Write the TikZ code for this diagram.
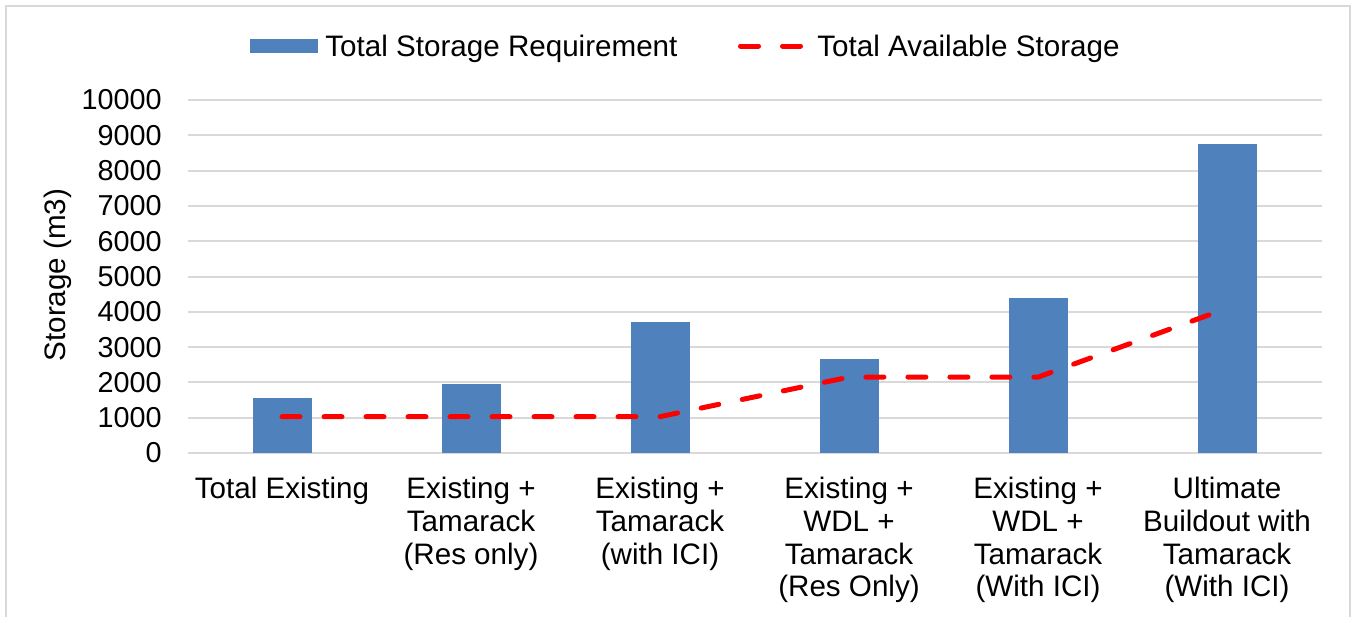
\documentclass[tikz,border=0pt]{standalone}
\usepackage{fontspec}
\setmainfont{Liberation Sans}
\definecolor{barblue}{HTML}{4F81BD}
\definecolor{gridgray}{HTML}{D9D9D9}
\definecolor{availred}{HTML}{FF0000}
\begin{document}
\begin{tikzpicture}[x=0.5pt,y=-0.5pt,
  lbl/.style={font=\fontsize{14.4}{16.3}\selectfont, inner sep=0pt, text=black},
  biglbl/.style={font=\fontsize{14.8}{16.3}\selectfont, inner sep=0pt, text=black},
  gridline/.style={draw=gridgray, line width=1pt},
  framebox/.style={draw=gridgray, line width=1pt},
  barfill/.style={fill=barblue, draw=none},
  avail/.style={draw=availred, line width=2.5pt, line cap=round, dash pattern=on 9pt off 12pt},
]
% canvas
\useasboundingbox (0,0) rectangle (1351,617);
\fill[white] (0,0) rectangle (1351,617);
\draw[framebox] (6,617) -- (6,6) -- (1350,6) -- (1350,617);

% horizontal gridlines and value labels (0 .. 10000)
\foreach \k in {0,...,10}{
  \pgfmathsetmacro{\yy}{453-35.3*\k}
  \pgfmathtruncatemacro{\val}{1000*\k}
  \draw[gridline] (188,\yy) -- (1322,\yy);
  \node[lbl, anchor=east] (tick\k) at (162,\yy) {\val};
}

% axis title
\node[biglbl, rotate=90] (ytitle) at (58,275) {Storage (m3)};

% bars: total storage requirement
\foreach \i/\v in {0/1550, 1/1950, 2/3700, 3/2650, 4/4380, 5/8750}{
  \pgfmathsetmacro{\cx}{282+189*\i}
  \fill[barfill] ({\cx-29.5},453) rectangle ({\cx+29.5},{453-0.0353*\v});
}

% data points of the available-storage line
\foreach \i/\v in {1/1030, 2/1030, 3/1030, 4/2150, 5/2150, 6/4100}{
  \coordinate (p\i) at ({282+189*(\i-1)},{453-0.0353*\v});
}
\draw[avail] (p1) -- (p2) -- (p3) -- (p4) -- (p5) -- (p6);

% category labels
\foreach \i/\txt in {0/{Total Existing},
                     1/{Existing +\\Tamarack\\(Res only)},
                     2/{Existing +\\Tamarack\\(with ICI)},
                     3/{Existing +\\WDL +\\Tamarack\\(Res Only)},
                     4/{Existing +\\WDL +\\Tamarack\\(With ICI)},
                     5/{Ultimate\\Buildout with\\Tamarack\\(With ICI)}}{
  \node[biglbl, anchor=north, align=center] (cat\i) at ({282+189*\i},477) {\txt};
}

% legend
\fill[barfill] (250,39) rectangle (318,53);
\node[biglbl, anchor=base west] (legreq) at (325,56) {Total Storage Requirement};
\coordinate (legA) at (740.5,46);
\coordinate (legB) at (800.5,46);
\draw[avail] (legA) -- (legB);
\node[biglbl, anchor=base west] (legavail) at (817,56) {Total Available Storage};
\end{tikzpicture}
\end{document}
